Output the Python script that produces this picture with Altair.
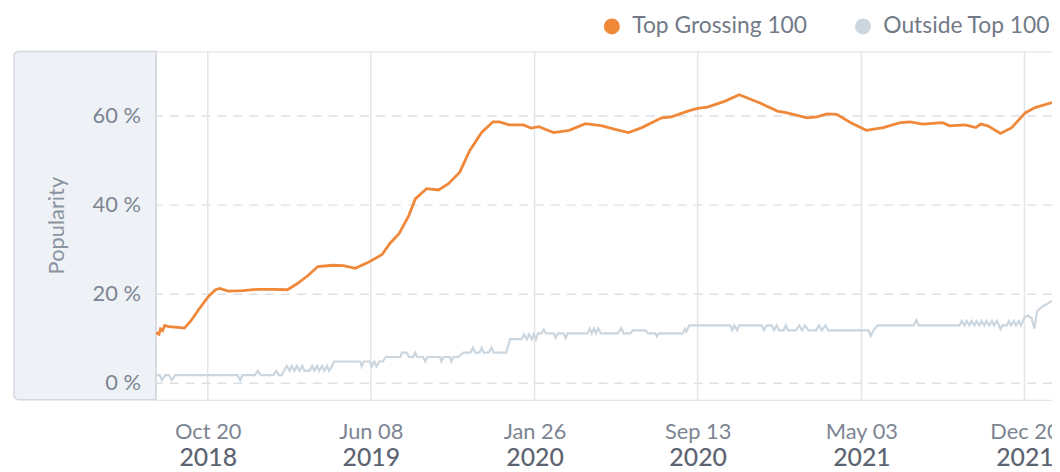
import altair as alt
import pandas as pd

# ---------------- data ----------------
START = "2018-08-08"
SERIES = ["Top Grossing 100", "Outside Top 100"]
COLORS = ["#f0883a", "#cbd6df"]

orange_days = [0, 4, 6, 9, 12, 18, 26, 35, 40, 49,
               60, 74, 84, 90, 102, 123, 144, 165, 186, 200,
               215, 229, 250, 265, 282, 302, 320, 331, 344, 358,
               367, 383, 400, 414, 430, 444, 461, 477, 486, 500,
               520, 531, 542, 563, 585, 608, 632, 650, 669, 688,
               716, 730, 753, 767, 781, 805, 826, 857, 880, 894,
               922, 936, 950, 964, 984, 1006, 1030, 1054, 1068, 1086,
               1114, 1124, 1146, 1161, 1168, 1178, 1196, 1212, 1231, 1245,
               1269]
orange_vals = [11.4, 11.0, 12.2, 11.8, 13.0, 12.7, 12.6, 12.5, 12.4, 14.0,
               16.5, 19.5, 21.0, 21.3, 20.7, 20.8, 21.1, 21.1, 21.0, 22.4,
               24.2, 26.2, 26.5, 26.4, 25.8, 27.3, 28.9, 31.4, 33.6, 37.7,
               41.4, 43.7, 43.4, 44.8, 47.4, 52.2, 56.3, 58.7, 58.7, 58.0,
               58.0, 57.3, 57.6, 56.3, 56.8, 58.3, 57.8, 57.0, 56.3, 57.4,
               59.6, 59.8, 61.1, 61.7, 62.0, 63.3, 64.8, 62.8, 61.1, 60.7,
               59.6, 59.8, 60.5, 60.4, 58.5, 56.8, 57.4, 58.5, 58.7, 58.2,
               58.5, 57.8, 58.0, 57.4, 58.2, 57.8, 56.1, 57.4, 60.7, 61.9,
               63.0]

gray_days = [0, 5, 8, 13, 18, 22, 27, 115, 119, 122,
             140, 144, 148, 166, 170, 174, 178, 181, 185, 189,
             192, 196, 199, 203, 207, 210, 217, 221, 224, 228,
             231, 235, 238, 242, 245, 249, 252, 289, 291, 294,
             303, 305, 309, 312, 316, 321, 325, 346, 348, 355,
             358, 364, 367, 370, 378, 381, 384, 402, 404, 407,
             416, 418, 421, 428, 435, 445, 449, 452, 458, 461,
             464, 471, 475, 478, 496, 501, 518, 521, 525, 528,
             532, 535, 538, 541, 546, 549, 552, 563, 566, 569,
             577, 580, 583, 611, 614, 617, 620, 623, 626, 630,
             654, 659, 662, 672, 675, 693, 697, 707, 709, 712,
             746, 749, 751, 755, 813, 816, 819, 823, 826, 858,
             861, 865, 872, 875, 879, 882, 889, 892, 895, 906,
             911, 915, 919, 924, 935, 939, 943, 948, 952, 1009,
             1012, 1016, 1022, 1073, 1077, 1080, 1138, 1141, 1145, 1148,
             1152, 1155, 1159, 1162, 1166, 1169, 1173, 1176, 1180, 1184,
             1187, 1191, 1194, 1196, 1199, 1205, 1208, 1211, 1215, 1218,
             1222, 1225, 1230, 1235, 1240, 1244, 1248, 1256, 1262, 1269]
gray_vals = [1.85, 1.85, 0.7, 1.85, 1.85, 0.7, 1.85, 1.85, 0.7, 1.85,
             1.85, 2.8, 1.85, 1.85, 2.8, 1.85, 1.85, 2.8, 3.9, 2.8,
             3.9, 2.8, 3.9, 2.8, 3.9, 2.8, 2.8, 3.9, 2.8, 3.9,
             2.8, 3.9, 2.8, 3.9, 2.8, 3.9, 4.9, 4.9, 3.8, 4.9,
             4.9, 3.8, 4.9, 3.8, 4.9, 4.9, 5.9, 5.9, 6.9, 6.9,
             5.9, 5.9, 6.9, 5.9, 5.9, 4.9, 5.9, 5.9, 4.9, 5.9,
             5.9, 4.9, 5.9, 5.9, 6.9, 6.9, 8.0, 6.9, 6.9, 8.0,
             6.9, 6.9, 8.0, 6.9, 6.9, 9.9, 9.9, 11.0, 9.9, 11.0,
             9.9, 11.0, 9.9, 11.2, 11.2, 12.1, 11.2, 11.2, 10.2, 11.2,
             11.2, 10.2, 11.2, 11.2, 12.3, 11.2, 12.3, 11.2, 12.3, 11.2,
             11.2, 12.4, 11.2, 11.2, 11.9, 11.9, 11.2, 11.2, 10.5, 11.2,
             11.2, 12.2, 11.6, 13.0, 13.0, 11.9, 13.0, 11.9, 13.0, 13.0,
             11.9, 13.0, 13.0, 11.9, 13.0, 11.9, 11.9, 13.0, 11.9, 11.9,
             13.0, 11.9, 13.0, 11.9, 11.9, 13.0, 11.9, 13.0, 11.9, 11.9,
             10.6, 11.9, 13.0, 13.0, 14.2, 13.0, 13.0, 14.0, 13.0, 14.0,
             13.0, 14.0, 13.0, 14.0, 13.0, 14.0, 13.0, 14.0, 13.0, 14.0,
             13.0, 14.0, 13.0, 12.1, 13.0, 13.0, 14.0, 13.0, 14.0, 13.0,
             14.0, 13.0, 14.8, 15.2, 14.6, 12.3, 16.2, 17.3, 17.8, 18.5]

tick_dates = ["2018-10-20", "2019-06-08", "2020-01-26",
              "2020-09-13", "2021-05-03", "2021-12-20"]
y_ticks = [0, 20, 40, 60]
y_labels = ["0 %", "20 %", "40 %", "60 %"]
Y_TITLE = ["Popularity"]

# ---------------- tables ----------------
start = pd.Timestamp(START)


def frame(days, vals, name):
    d = pd.DataFrame({"day": days, "value": vals})
    d["date"] = (start + pd.to_timedelta(d["day"], unit="D")).dt.strftime("%Y-%m-%d")
    d["series"] = name
    return d


gray_df = frame(gray_days, gray_vals, SERIES[1])
orange_df = frame(orange_days, orange_vals, SERIES[0])
all_df = pd.concat([orange_df, gray_df], ignore_index=True)


def dt(s, **kw):
    t = pd.Timestamp(s)
    return alt.DateTime(year=t.year, month=t.month, date=t.day, utc=True, **kw)


xscale = alt.Scale(type="utc",
                   domain=[dt("2018-08-07", hours=12), dt("2022-01-28")])
yscale = alt.Scale(domain=[-3.7, 74.5], nice=False, zero=False)
cscale = alt.Scale(domain=SERIES, range=COLORS)

LABEL = "#7d8593"
FONT = "Lato"

md_axis = alt.Axis(values=[dt(s) for s in tick_dates], orient="bottom",
                   labelExpr="utcFormat(datum.value, '%b %d')",
                   labelFontSize=22, labelColor=LABEL, labelFont=FONT,
                   labelPadding=22, ticks=False, tickSize=0, domain=False,
                   grid=False, title=None, labelFlush=False, labelOverlap=False)
year_axis = alt.Axis(values=[dt(s) for s in tick_dates], orient="bottom",
                     labelExpr="utcFormat(datum.value, '%Y')",
                     labelFontSize=25, labelColor="#5d6471", labelFont=FONT,
                     labelFontWeight=500,
                     labelPadding=46, ticks=False, tickSize=0, domain=False,
                     grid=False, title=None, labelFlush=False, labelOverlap=False)

legend = alt.Legend(orient="none", legendX=448, legendY=-37,
                    direction="horizontal", title=None,
                    symbolType="circle", symbolSize=260, symbolStrokeWidth=0,
                    symbolOpacity=1, labelLimit=400,
                    labelFontSize=23, labelColor="#727a87", labelFont=FONT,
                    labelOffset=9, columnPadding=44)

panel = alt.Chart(pd.DataFrame({"k": [0]})).mark_rect(
    fill="#eef2f6", stroke="#d3d8de", strokeWidth=1.5,
    cornerRadiusTopLeft=5, cornerRadiusBottomLeft=5
).encode(x=alt.value(-143), x2=alt.value(0), y=alt.value(0), y2=alt.value(351))

ylab = alt.Chart(pd.DataFrame({"v": y_ticks, "t": y_labels})).mark_text(
    align="right", baseline="middle", fontSize=22, color=LABEL, font=FONT
).encode(x=alt.value(-15), y=alt.Y("v:Q", scale=yscale, axis=None), text="t:N")

ytitle = alt.Chart(pd.DataFrame({"t": Y_TITLE})).mark_text(
    align="center", baseline="alphabetic", angle=270, fontSize=22,
    color="#8b93a0", font=FONT
).encode(x=alt.value(-93), y=alt.value(175.5), text="t:N")

hgrid = alt.Chart(pd.DataFrame({"v": y_ticks})).mark_rule(
    color="#dde0e4", strokeWidth=1.5, strokeDash=[9, 7]
).encode(y=alt.Y("v:Q", scale=yscale, axis=None))

vgrid = alt.Chart(pd.DataFrame({"d": tick_dates})).mark_rule(
    color="#e2e5e9", strokeWidth=1.5
).encode(x=alt.X("d:T", scale=xscale, axis=year_axis))

gray_line = alt.Chart(gray_df).mark_line(
    strokeWidth=2.2, interpolate="linear", color=COLORS[1]
).encode(
    x=alt.X("date:T", scale=xscale, axis=md_axis),
    y=alt.Y("value:Q", scale=yscale, axis=None),
)
orange_line = alt.Chart(orange_df).mark_line(
    strokeWidth=2.8, interpolate="linear", color=COLORS[0]
).encode(
    x=alt.X("date:T", scale=xscale, axis=None),
    y=alt.Y("value:Q", scale=yscale, axis=None),
)
# invisible points that only supply the filled-circle legend
legend_pts = alt.Chart(all_df).mark_circle(opacity=0).encode(
    x=alt.X("date:T", scale=xscale, axis=None),
    y=alt.Y("value:Q", scale=yscale, axis=None),
    color=alt.Color("series:N", scale=cscale, legend=legend),
)

chart = alt.layer(panel, ylab, ytitle, hgrid, vgrid, gray_line, orange_line,
                  legend_pts).resolve_axis(
    x="independent"
).properties(
    width=903, height=351,
    padding={"left": 149, "top": 42, "right": 0, "bottom": 71},
    autosize=alt.AutoSizeParams(type="none"),
    background="white",
).configure_view(stroke="#d5d9de", strokeWidth=1.5).configure(font=FONT)

chart.save("out.html", embed_options={"renderer": "svg", "actions": False})
